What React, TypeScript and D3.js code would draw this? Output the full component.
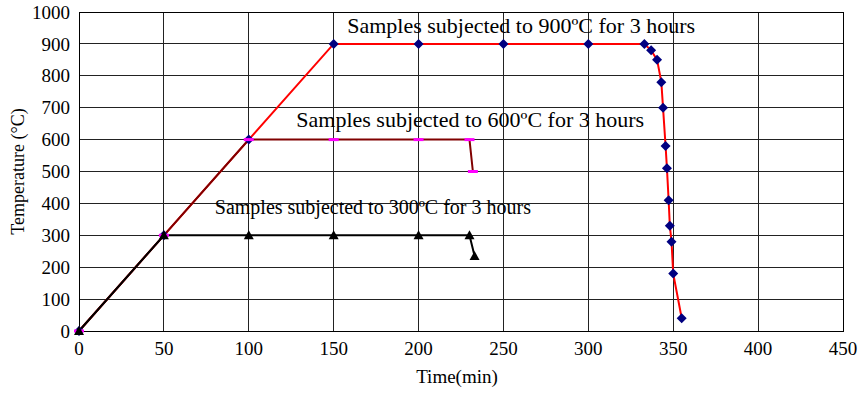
import React from "react";
import * as d3 from "d3";

const xTicks = [0, 50, 100, 150, 200, 250, 300, 350, 400, 450];
const yTicks = [0, 100, 200, 300, 400, 500, 600, 700, 800, 900, 1000];

const s900Time = [0, 50, 100, 150, 200, 250, 300, 333, 337, 340.5, 343, 344, 345.5, 346.3, 347.3, 348, 349, 350, 355];
const s900Temp = [0, 300, 600, 900, 900, 900, 900, 900, 880, 850, 780, 700, 580, 510, 410, 330, 280, 180, 40];

const s600Time = [0, 50, 100, 150, 200, 230, 232];
const s600Temp = [0, 300, 600, 600, 600, 600, 500];

const s300Time = [0, 50, 100, 150, 200, 230, 233];
const s300Temp = [0, 300, 300, 300, 300, 300, 235];

const labels = [
  { text: "Samples subjected to 900ºC for 3 hours", t: 158, v: 934, size: 22 },
  { text: "Samples subjected to 600ºC for 3 hours", t: 128, v: 640, size: 22 },
  { text: "Samples subjected to 300ºC for 3 hours", t: 80, v: 366, size: 20 },
];

export default function App() {
  const W = 859, H = 393;
  const left = 79, right = 843, top = 12, bottom = 331;
  const x = d3.scaleLinear().domain([0, 450]).range([left, right]);
  const y = d3.scaleLinear().domain([0, 1000]).range([bottom, top]);
  const line = d3.line<[number, number]>().x(d => x(d[0])).y(d => y(d[1]));
  const zip = (a: number[], b: number[]) => a.map((v, i) => [v, b[i]] as [number, number]);
  const d900 = zip(s900Time, s900Temp);
  const d600 = zip(s600Time, s600Temp);
  const d300 = zip(s300Time, s300Temp);
  const font = "'Liberation Serif', 'Times New Roman', serif";
  return (
    <svg width={W} height={H} style={{ position: "absolute", left: 0, top: 0, background: "#fff" }} fontFamily={font}>
      {yTicks.map(t => (
        <line key={"gy" + t} x1={left} x2={right} y1={y(t)} y2={y(t)} stroke="#222" strokeWidth={1} shapeRendering="crispEdges" />
      ))}
      {xTicks.map(t => (
        <line key={"gx" + t} x1={x(t)} x2={x(t)} y1={top} y2={bottom} stroke="#222" strokeWidth={1} shapeRendering="crispEdges" />
      ))}
      <rect x={left} y={top} width={right - left} height={bottom - top} fill="none" stroke="#000" strokeWidth={1} shapeRendering="crispEdges" />
      {yTicks.map(t => (
        <text key={"ty" + t} x={70} y={y(t)} dy="0.35em" textAnchor="end" fontSize={19} fill="#000">{t}</text>
      ))}
      {xTicks.map(t => (
        <text key={"tx" + t} x={x(t)} y={bottom + 24} textAnchor="middle" fontSize={19} fill="#000">{t}</text>
      ))}
      <text x={457} y={383} textAnchor="middle" fontSize={19} fill="#000">Time(min)</text>
      <text transform={`translate(24, ${y(500)}) rotate(-90)`} textAnchor="middle" fontSize={18} fill="#000">Temperature (°C)</text>

      <path d={line(d900) || ""} fill="none" stroke="#ff0000" strokeWidth={2} />
      <path d={line(d600) || ""} fill="none" stroke="#800000" strokeWidth={2} />
      <path d={line(d300) || ""} fill="none" stroke="#000" strokeWidth={2} />

      {d900.map((d, i) => (
        <path key={"m9" + i} d="M0,-5L5,0L0,5L-5,0Z" transform={`translate(${x(d[0])},${y(d[1])})`} fill="#000080" />
      ))}
      {d600.map((d, i) => (
        <rect key={"m6" + i} x={x(d[0]) - 5} y={y(d[1]) - 1.5} width={10} height={3} fill="#ff00ff" />
      ))}
      {d300.map((d, i) => (
        <path key={"m3" + i} d="M0,-5L5,4L-5,4Z" transform={`translate(${x(d[0])},${y(d[1])})`} fill="#000" />
      ))}

      {labels.map((l, i) => (
        <text key={"l" + i} x={x(l.t)} y={y(l.v)} fontSize={l.size} fill="#000">{l.text}</text>
      ))}
    </svg>
  );
}
